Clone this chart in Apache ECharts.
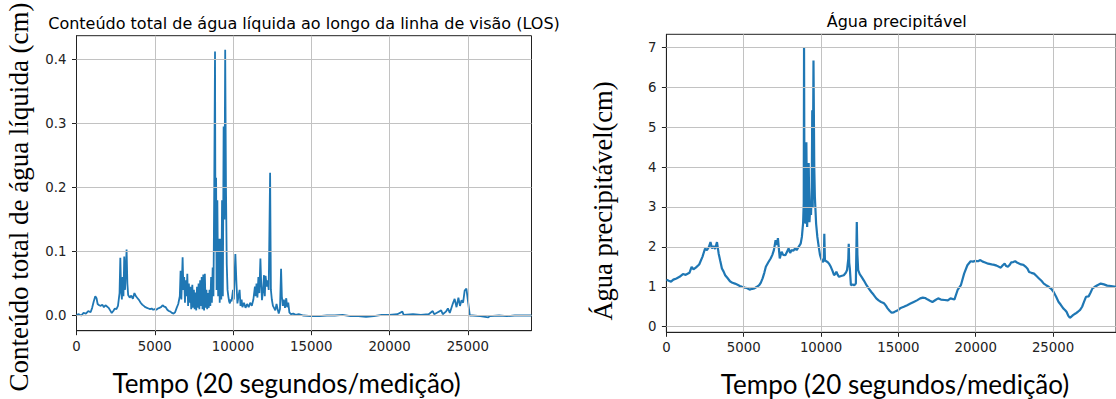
<!DOCTYPE html>
<html>
<head>
<meta charset="utf-8">
<script src="https://cdn.jsdelivr.net/npm/echarts@6.0.0/dist/echarts.min.js"></script>
<style>
  html, body { margin: 0; padding: 0; background: #ffffff; }
  #chart { width: 1116px; height: 399px; }
</style>
</head>
<body>
<div id="chart"></div>
<script>
// ---------------- DATA ----------------
const leftTitle = "Conteúdo total de água líquida ao longo da linha de visão (LOS)";
const rightTitle = "Água precipitável";
const leftYName = "Conteúdo total de água líquida (cm)";
const rightYName = "Água precipitável(cm)";
const xName = "Tempo (20 segundos/medição)";

const xTickValues = [0, 5000, 10000, 15000, 20000, 25000];
const losTickValues = [0.0, 0.1, 0.2, 0.3, 0.4];
const pwTickValues = [0, 1, 2, 3, 4, 5, 6, 7];

// Left: liquid water content along line of sight (cm)
const losTime = [
  0,150,300,450,600,750,900,1000,1100,1200,1280,1350,1450,1550,1650,1750,1850,1950,2050,2150,
  2250,2350,2450,2550,2650,2750,2800,2850,2900,2950,3000,3050,3100,3200,3250,3300,3400,3500,3600,3700,
  3800,3900,4000,4100,4200,4300,4400,4500,4600,4700,4800,4900,5000,5100,5200,5300,5400,5500,5600,5700,
  5800,5900,6000,6100,6200,6300,6400,6500,6600,6650,6700,6780,6830,6880,6930,6980,7030,7080,7130,7180,
  7230,7280,7330,7400,7450,7500,7550,7600,7650,7700,7750,7800,7850,7900,7950,8000,8050,8100,8150,8200,
  8250,8300,8350,8400,8450,8500,8550,8600,8650,8700,8750,8800,8850,8880,8920,8950,9000,9050,9100,9150,
  9200,9250,9300,9350,9400,9450,9500,9550,9600,9650,9700,9750,9800,9850,9900,9950,10000,10050,10150,10220,
  10280,10350,10420,10480,10550,10600,10700,10800,10900,11000,11100,11200,11300,11400,11450,11500,11560,11620,11680,11750,
  11800,11850,11920,11980,12030,12080,12150,12220,12280,12370,12420,12480,12550,12620,12700,12780,12850,12920,13000,13070,
  13120,13180,13250,13320,13400,13460,13530,13600,13700,13850,14000,14200,14500,15000,15500,16000,16500,17000,17500,18000,
  18500,19000,19500,20000,20500,20820,20900,21500,22000,22500,22760,22850,23000,23300,23400,23600,23730,23850,24050,24160,
  24280,24400,24500,24600,24700,24800,24910,25020,25130,25300,25800,26310,26400,27000,27500,28000,28500,29070
];
const losValue = [
  0.001,0.002,0.000,0.004,0.003,0.007,0.005,0.012,0.022,0.030,0.027,0.018,0.016,0.015,0.017,0.013,0.016,0.014,0.012,0.008,
  0.004,0.007,0.011,0.010,0.015,0.035,0.090,0.040,0.025,0.060,0.030,0.092,0.040,0.103,0.050,0.032,0.028,0.031,0.026,0.035,
  0.030,0.027,0.024,0.020,0.017,0.015,0.013,0.012,0.011,0.010,0.011,0.009,0.010,0.009,0.011,0.012,0.013,0.016,0.014,0.013,
  0.009,0.007,0.006,0.004,0.003,0.005,0.012,0.018,0.030,0.070,0.025,0.091,0.040,0.060,0.020,0.055,0.030,0.065,0.015,0.050,
  0.020,0.045,0.010,0.048,0.012,0.040,0.010,0.036,0.008,0.045,0.012,0.050,0.010,0.055,0.015,0.060,0.010,0.064,0.008,0.065,
  0.012,0.040,0.010,0.035,0.012,0.040,0.015,0.060,0.020,0.075,0.030,0.200,0.412,0.100,0.215,0.040,0.180,0.030,0.120,0.020,
  0.120,0.025,0.180,0.030,0.295,0.150,0.415,0.200,0.080,0.040,0.030,0.022,0.019,0.025,0.022,0.030,0.040,0.025,0.096,0.050,
  0.019,0.030,0.040,0.015,0.025,0.013,0.020,0.012,0.018,0.013,0.020,0.015,0.025,0.045,0.030,0.050,0.028,0.060,0.035,0.089,
  0.050,0.024,0.040,0.063,0.030,0.062,0.045,0.055,0.040,0.223,0.040,0.025,0.015,0.012,0.008,0.018,0.010,0.003,0.010,0.073,
  0.030,0.015,0.025,0.012,0.027,0.013,0.020,0.005,0.002,0.003,0.001,0.002,0.000,-0.001,-0.001,0.000,0.000,0.001,-0.001,-0.001,
  -0.002,-0.001,0.001,0.001,0.002,0.006,0.001,0.002,0.001,0.002,0.007,0.002,0.004,0.008,0.002,0.006,0.011,0.004,0.019,0.026,
  0.013,0.028,0.015,0.024,0.020,0.039,0.042,0.021,0.000,0.000,-0.001,-0.003,-0.001,0.000,-0.001,0.000,0.000,0.000
];

// Right: precipitable water (cm)
const pwTime = [
  0,150,300,450,650,850,1070,1250,1490,1630,1750,1900,2120,2330,2500,2620,2750,2850,2950,3050,
  3150,3270,3380,3480,3590,3700,3800,3950,4110,4270,4430,4600,4750,4900,5060,5200,5380,5550,5690,5850,
  6000,6100,6220,6330,6430,6600,6740,6850,6950,7060,7150,7210,7330,7450,7550,7690,7800,7900,8000,8100,
  8200,8320,8420,8550,8680,8760,8840,8880,8900,8930,8960,9000,9050,9100,9150,9200,9250,9300,9350,9400,
  9430,9460,9510,9560,9600,9680,9760,9850,9930,10000,10100,10180,10210,10250,10330,10420,10520,10630,10740,10840,
  10920,10990,11080,11160,11300,11470,11600,11680,11760,11790,11820,11860,11930,12050,12150,12250,12310,12350,12400,12500,
  12620,12780,12940,13100,13250,13400,13570,13720,13880,14000,14090,14200,14300,14430,14560,14700,14830,15000,15150,15350,
  15570,15780,15990,16200,16410,16580,16730,16900,17040,17200,17400,17570,17750,17990,18200,18370,18620,18830,19040,19250,
  19460,19670,19820,19980,20150,20300,20450,20610,20800,21030,21200,21350,21500,21620,21750,21870,21970,22080,22200,22290,
  22420,22550,22700,22930,23080,23240,23350,23450,23600,23770,23930,24090,24250,24400,24550,24720,24880,25030,25200,25350,
  25500,25660,25770,25870,25980,26080,26180,26290,26450,26610,26750,26880,27000,27130,27300,27420,27550,27700,27870,28080,
  28290,28500,28750,29070
];
const pwValue = [
  1.18,1.15,1.13,1.18,1.21,1.25,1.32,1.30,1.35,1.50,1.44,1.48,1.56,1.75,1.96,1.92,2.00,2.12,1.96,2.02,
  1.95,2.12,1.83,1.65,1.46,1.38,1.29,1.22,1.14,1.10,1.08,1.05,1.02,1.00,0.98,0.97,0.93,0.95,0.96,1.00,
  1.04,1.10,1.21,1.35,1.50,1.62,1.71,1.80,1.92,2.17,2.05,2.22,1.71,1.88,1.80,1.79,1.88,1.96,1.85,1.92,
  1.90,1.96,1.92,2.00,2.08,2.25,2.60,3.10,7.00,2.60,4.58,2.58,4.62,2.50,3.20,4.10,2.62,3.00,2.80,3.50,
  5.42,3.00,6.67,4.00,3.25,2.58,2.25,2.00,1.80,1.71,1.62,1.65,2.33,1.67,1.64,1.62,1.58,1.50,1.40,1.29,
  1.32,1.38,1.30,1.25,1.27,1.29,1.35,1.42,1.70,2.08,1.60,1.46,1.04,1.06,1.04,1.08,2.62,1.80,1.42,1.32,
  1.25,1.15,1.04,0.95,0.87,0.80,0.71,0.66,0.62,0.60,0.58,0.52,0.46,0.40,0.35,0.36,0.39,0.42,0.47,0.50,
  0.54,0.58,0.62,0.66,0.71,0.73,0.72,0.68,0.65,0.62,0.67,0.71,0.68,0.67,0.66,0.71,0.68,0.92,1.04,1.33,
  1.54,1.64,1.63,1.65,1.64,1.67,1.63,1.61,1.58,1.56,1.55,1.53,1.50,1.48,1.54,1.58,1.52,1.50,1.55,1.61,
  1.62,1.64,1.60,1.56,1.55,1.50,1.45,1.37,1.35,1.33,1.27,1.21,1.15,1.08,1.04,1.00,0.95,0.875,0.75,0.625,
  0.55,0.46,0.42,0.375,0.28,0.225,0.25,0.29,0.33,0.375,0.42,0.50,0.62,0.75,0.76,0.85,0.96,1.00,1.04,1.08,
  1.06,1.03,1.02,1.00
];

// ---------------- CHART ----------------
const losData = losTime.map((t, i) => [t, losValue[i]]);
const pwData = pwTime.map((t, i) => [t, pwValue[i]]);

const tickFont = { fontFamily: 'DejaVu Sans', fontSize: 13.3, color: '#222' };
const gridLineStyle = { color: '#c2c2c2', width: 1 };
const axisTick = { show: true, length: 4.5, inside: false, lineStyle: { color: '#222', width: 1 } };

function xAxisFor(gi, maxV) {
  return {
    type: 'value', gridIndex: gi, min: 0, max: maxV,
    axisLine: { show: true, onZero: false, lineStyle: { color: '#222', width: 1 } },
    axisTick: Object.assign({ customValues: xTickValues }, axisTick),
    axisLabel: Object.assign({ margin: 9, showMinLabel: true, showMaxLabel: true, customValues: xTickValues,
      formatter: v => String(Math.round(v)) }, tickFont),
    splitLine: { show: false }
  };
}
function yAxisFor(gi, minV, maxV, ticks, fmt) {
  return {
    type: 'value', gridIndex: gi, min: minV, max: maxV,
    axisLine: { show: true, onZero: false, lineStyle: { color: '#222', width: 1 } },
    axisTick: Object.assign({ customValues: ticks }, axisTick),
    axisLabel: Object.assign({ margin: 10, showMinLabel: true, showMaxLabel: true, customValues: ticks,
      formatter: fmt }, tickFont),
    splitLine: { show: false }
  };
}

// grid lines drawn as markLines at the tick values, through the library's own scales
function gridLines(xTicks, yTicks) {
  return {
    silent: true, symbol: 'none', label: { show: false }, animation: false,
    lineStyle: Object.assign({ type: 'solid' }, gridLineStyle),
    data: xTicks.map(v => ({ xAxis: v })).concat(yTicks.map(v => ({ yAxis: v })))
  };
}

const chart = echarts.init(document.getElementById('chart'), null, { renderer: 'svg' });
chart.setOption({
  animation: false,
  backgroundColor: '#ffffff',
  grid: [
    { left: 76.5, top: 35.7, width: 455, height: 295, show: true, borderColor: '#222', borderWidth: 1, backgroundColor: 'transparent', containLabel: false },
    { left: 666.4, top: 34.3, width: 461, height: 298, show: true, borderColor: '#222', borderWidth: 1, backgroundColor: 'transparent', containLabel: false }
  ],
  xAxis: [ xAxisFor(0, 29070), xAxisFor(1, 29070) ],
  yAxis: [
    yAxisFor(0, -0.0237, 0.4368, losTickValues, v => v.toFixed(1)),
    yAxisFor(1, -0.14, 7.326, pwTickValues, v => String(Math.round(v)))
  ],
  series: [
    { type: 'line', xAxisIndex: 0, yAxisIndex: 0, data: losData, showSymbol: false, symbol: 'none', z: 3,
      lineStyle: { color: '#1f77b4', width: 1.8 }, clip: true,
      markLine: gridLines(xTickValues.slice(1), losTickValues) },
    { type: 'line', xAxisIndex: 1, yAxisIndex: 1, data: pwData, showSymbol: false, symbol: 'none', z: 3,
      lineStyle: { color: '#1f77b4', width: 2.2 }, clip: true,
      markLine: gridLines(xTickValues.slice(1), pwTickValues) }
  ],
  graphic: [
    { type: 'text', x: 304, y: 23, style: { text: leftTitle, font: '16px "DejaVu Sans"', fill: '#000', textAlign: 'center', textVerticalAlign: 'middle' } },
    { type: 'text', x: 896.7, y: 21.5, style: { text: rightTitle, font: '16px "DejaVu Sans"', fill: '#000', textAlign: 'center', textVerticalAlign: 'middle' } },
    { type: 'text', x: 286.6, y: 383, style: { text: xName, font: '26px Lato', fill: '#000', textAlign: 'center', textVerticalAlign: 'middle' } },
    { type: 'text', x: 895, y: 384, style: { text: xName, font: '26px Lato', fill: '#000', textAlign: 'center', textVerticalAlign: 'middle' } },
    { type: 'text', x: 19, y: 197, rotation: Math.PI / 2, style: { text: leftYName, font: '27px "Liberation Serif"', fill: '#000', textAlign: 'center', textVerticalAlign: 'middle' } },
    { type: 'text', x: 603, y: 201, rotation: Math.PI / 2, style: { text: rightYName, font: '26.5px "Liberation Serif"', fill: '#000', textAlign: 'center', textVerticalAlign: 'middle' } }
  ]
});
</script>
</body>
</html>
